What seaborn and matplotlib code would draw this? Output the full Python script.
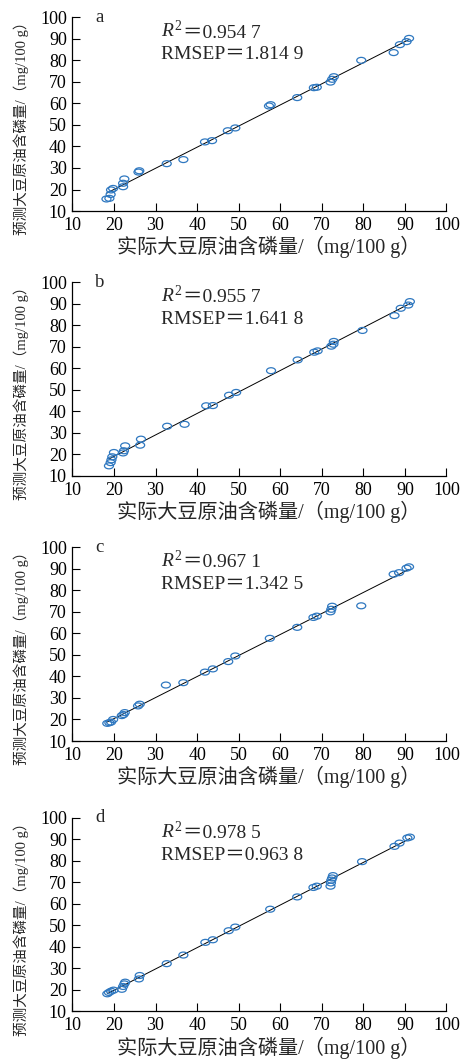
import numpy as np
import matplotlib
matplotlib.use('Agg')
import matplotlib.pyplot as plt
import seaborn as sns
from matplotlib.path import Path

# 数据：实际值 / 预测值
x_a = [18.2, 18.9, 19.2, 19.3, 19.8, 22.2, 22.2, 22.5, 25.9, 26.1, 32.7, 36.7, 41.9, 43.6, 47.4,
       49.2, 57.3, 57.7, 64.1, 68.1, 68.8, 72.1, 72.5, 72.9, 79.5, 87.3, 88.8, 90.4, 91.0]
y_a = [15.6, 15.9, 17.7, 19.8, 20.5, 21.3, 22.9, 24.9, 28.1, 28.7, 32.0, 33.9, 42.1, 42.7, 47.3,
       48.6, 58.8, 59.4, 62.7, 67.3, 67.5, 69.9, 71.2, 72.4, 80.0, 83.6, 87.3, 88.7, 90.2]

x_b = [18.8, 19.2, 19.4, 19.6, 20.0, 22.2, 22.4, 22.7, 26.3, 26.5, 32.8, 37.0, 42.2, 43.8, 47.7,
       49.4, 57.8, 64.2, 68.2, 69.0, 72.3, 72.8, 72.9, 79.8, 87.5, 89.0, 90.8, 91.2]
y_b = [14.7, 16.2, 17.5, 18.9, 20.9, 20.7, 21.7, 24.0, 24.3, 27.1, 33.1, 34.0, 42.6, 42.7, 47.5,
       48.8, 58.9, 63.9, 67.5, 68.1, 70.3, 71.2, 72.5, 77.6, 84.5, 87.9, 89.4, 91.0]

x_c = [18.4, 18.9, 19.3, 19.8, 21.9, 22.3, 22.6, 25.8, 26.2, 32.5, 36.7, 41.9, 43.8, 47.5, 49.2,
       57.5, 64.1, 68.0, 68.8, 72.1, 72.3, 72.5, 79.5, 87.3, 88.6, 90.4, 91.0]
y_c = [18.2, 18.5, 18.8, 20.0, 21.8, 22.3, 23.2, 26.3, 27.1, 36.0, 37.1, 42.0, 43.5, 46.9, 49.5,
       57.7, 62.8, 67.4, 68.0, 70.0, 71.2, 72.6, 72.8, 87.5, 88.2, 90.3, 90.9]

x_d = [18.4, 18.8, 19.3, 19.9, 21.9, 22.2, 22.5, 22.7, 26.0, 26.2, 32.7, 36.7, 42.0, 43.8, 47.6,
       49.2, 57.6, 64.1, 68.0, 68.8, 72.1, 72.2, 72.3, 72.5, 72.7, 79.7, 87.5, 88.7, 90.6, 91.2]
y_d = [18.2, 18.8, 19.4, 19.9, 20.3, 21.6, 22.8, 23.6, 25.1, 26.7, 32.2, 36.2, 42.1, 43.3, 47.5,
       49.2, 57.5, 63.2, 67.6, 68.2, 68.2, 69.7, 71.0, 72.0, 73.1, 79.6, 86.7, 88.2, 90.6, 91.0]

panel_names = ['a', 'b', 'c', 'd']
r2_texts = ['0.954 7', '0.955 7', '0.967 1', '0.978 5']
rmsep_texts = ['1.814 9', '1.641 8', '1.342 5', '0.963 8']
ticks = [10, 20, 30, 40, 50, 60, 70, 80, 90, 100]

xlabel = '实际大豆原油含磷量/（mg/100 g）'
ylabel = '预测大豆原油含磷量/（mg/100 g）'

sns.set_theme(style='ticks')
fonts = ['Liberation Serif', 'Noto Sans CJK SC', 'DejaVu Sans']
plt.rcParams['font.family'] = fonts
plt.rcParams['mathtext.fontset'] = 'custom'
plt.rcParams['mathtext.rm'] = 'Liberation Serif'
plt.rcParams['mathtext.it'] = 'Liberation Serif:italic'
plt.rcParams['xtick.direction'] = 'in'
plt.rcParams['ytick.direction'] = 'in'

blue = '#2f78c0'
circ = Path.unit_circle()
ellipse = Path(circ.vertices * np.array([1.0, 0.66]), circ.codes)

fig = plt.figure(figsize=(4.67, 10.61), dpi=100)
bottoms = [0.8011, 0.5514, 0.3016, 0.0467]
datas = [(x_a, y_a), (x_b, y_b), (x_c, y_c), (x_d, y_d)]

for i in range(4):
    ax = fig.add_axes([0.155, bottoms[i], 0.801, 0.1826])
    xs, ys = datas[i]

    # 回归线
    sns.regplot(x=xs, y=ys, ax=ax, scatter=False, ci=None, truncate=True,
                color='black', line_kws={'lw': 0.7})
    # 散点
    sns.scatterplot(x=xs, y=ys, ax=ax, marker=ellipse, s=42, fc='none',
                    ec=blue, linewidth=0.9, zorder=3)

    ax.set_xlim(10, 100)
    ax.set_ylim(10, 100)
    ax.set_xticks(ticks)
    ax.set_yticks(ticks)
    ax.tick_params(length=6, width=0.8, labelsize=13, pad=4, colors='black')
    for sp in ['left', 'bottom']:
        ax.spines[sp].set_linewidth(0.9)
        ax.spines[sp].set_color('black')
    sns.despine(ax=ax)

    ax.set_xlabel(xlabel, fontsize=14.5, family=fonts)
    ax.set_ylabel(ylabel, fontsize=10.5, family=fonts)
    ax.xaxis.set_label_coords(0.525, -0.13)
    ax.yaxis.set_label_coords(-0.115, 0.443)

    ax.text(15.5, 98, panel_names[i], fontsize=13.5, va='baseline', family=fonts)
    t1 = ax.text(31.4, 90.6, r'$R^2$', fontsize=14, va='baseline')
    ax.annotate('＝' + r2_texts[i], xy=(1, 0), xycoords=t1, va='bottom',
                fontsize=14, family=fonts)
    ax.text(31.4, 80.4, 'RMSEP＝' + rmsep_texts[i], fontsize=14, va='baseline',
            family=fonts)

fig.savefig('out.png', dpi=100)
